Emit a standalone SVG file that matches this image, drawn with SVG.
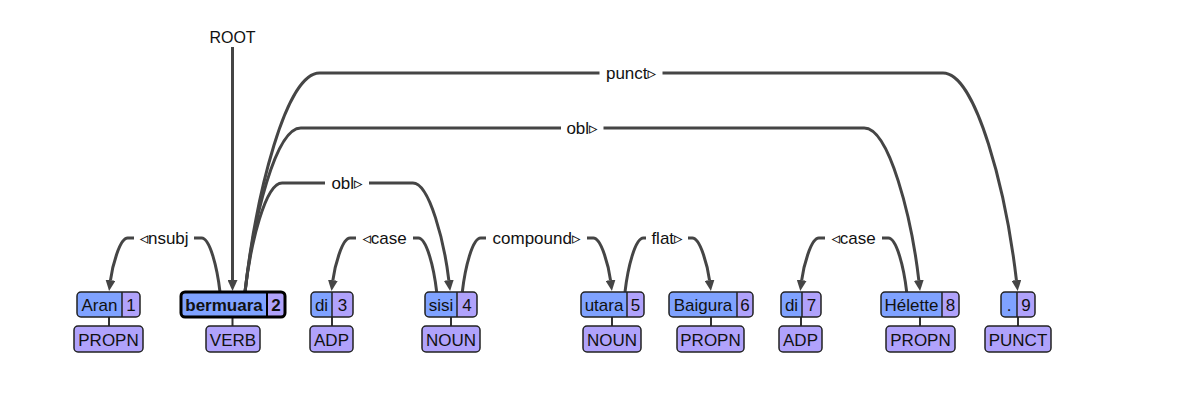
<svg xmlns="http://www.w3.org/2000/svg" width="1177" height="407" viewBox="0 0 1177 407">
<style>
.bg{fill:#ffffff}
.arc{fill:none;stroke:#454545;stroke-width:3}
.stem{stroke:#333;stroke-width:2}
.w{fill:#7fa2ff}
.nb{fill:#b0a2fb}
.o{fill:none;stroke:#222;stroke-width:1.5}
.ob{fill:none;stroke:#000;stroke-width:3}
.dv{stroke:#222;stroke-width:1.5}
.pos{fill:#b0a2fb;stroke:#222;stroke-width:1.5}
.t{font-family:"Liberation Sans","DejaVu Sans",Arial,sans-serif;font-size:17px;fill:#111;text-anchor:middle}
.r{font-size:16px}
.b{font-weight:bold}
.lbl{font-family:"Liberation Sans","DejaVu Sans",Arial,sans-serif;font-size:17px;fill:#111;text-anchor:middle}
</style>
<defs>
<marker id="arr" markerWidth="11" markerHeight="10" refX="0" refY="5" orient="auto" markerUnits="userSpaceOnUse">
<path d="M0,0 L11,5 L0,10 z" fill="#454545"/>
</marker>
</defs>
<rect class="bg" x="0" y="0" width="1177" height="407"/>

<g id="connectors">
<!-- ROOT -->
<path class="arc" d="M232.5,47 V280" marker-end="url(#arr)"/>
<!-- nsubj 2->1 -->
<path class="arc" d="M134,238 H127.7 C119.4,238 112.1,267.7 110.5,280.1" marker-end="url(#arr)"/>
<path class="arc" d="M194,238 H201.6 C209.9,238 217.2,267.7 220,292"/>
<!-- case 4->3 -->
<path class="arc" d="M356,238 H350.1 C341.8,238 334.5,267.7 332.9,280.1" marker-end="url(#arr)"/>
<path class="arc" d="M413,238 H418.3 C426.6,238 433.9,267.7 436.7,292"/>
<!-- compound 4->5 -->
<path class="arc" d="M486,238 H480.7 C472.4,238 465.1,267.7 462.3,292"/>
<path class="arc" d="M587,238 H593.3 C601.6,238 608.9,267.7 610.5,280.1" marker-end="url(#arr)"/>
<!-- flat 5->6 -->
<path class="arc" d="M646,238 H643.4 C635.1,238 627.8,267.7 625,292"/>
<path class="arc" d="M688,238 H692.3 C700.6,238 707.9,267.7 709.5,280.1" marker-end="url(#arr)"/>
<!-- case 8->7 -->
<path class="arc" d="M825,238 H818.9 C810.6,238 803.3,267.7 801.7,280.1" marker-end="url(#arr)"/>
<path class="arc" d="M882,238 H888.3 C896.6,238 903.9,267.7 906.7,292"/>
<!-- obl 2->4 -->
<path class="arc" d="M325,183 H282.1 C265.4,183 250.6,243 245,292"/>
<path class="arc" d="M369,183 H412.9 C429.6,183 444.4,243 448.8,280.1" marker-end="url(#arr)"/>
<!-- obl 2->8 -->
<path class="arc" d="M561,128 H300.8 C275.7,128 253.4,218.2 245,292"/>
<path class="arc" d="M603.5,128 H864.2 C889.3,128 911.6,218.2 918.8,280.1" marker-end="url(#arr)"/>
<!-- punct 2->9 -->
<path class="arc" d="M599.5,73 H319.5 C286,73 256.2,193.4 245,292"/>
<path class="arc" d="M662.5,73 H943 C976.5,73 1006.3,193.4 1016.4,280.1" marker-end="url(#arr)"/>
</g>

<g id="labels">
<text class="lbl" x="164" y="243.5">◃nsubj</text>
<text class="lbl" x="384.5" y="243.5">◃case</text>
<text class="lbl" x="536.5" y="243.5">compound▹</text>
<text class="lbl" x="667" y="243.5">flat▹</text>
<text class="lbl" x="853.5" y="243.5">◃case</text>
<text class="lbl" x="347" y="188.5">obl▹</text>
<text class="lbl" x="582" y="133.5">obl▹</text>
<text class="lbl" x="631" y="78.5">punct▹</text>
</g>

<g id="root">
<text class="t r" x="232.5" y="43">ROOT</text>
</g>

<g id="node-1">
<line class="stem" x1="109" y1="317" x2="109" y2="326"/>
<rect class="nb" x="77" y="292" width="63" height="25" rx="4"/>
<path class="w" d="M81,292 H122 V317 H81 A4,4 0 0 1 77,313 V296 A4,4 0 0 1 81,292 Z"/>
<rect class="o" x="77" y="292" width="63" height="25" rx="4"/>
<line class="dv" x1="122" y1="292" x2="122" y2="317"/>
<text class="t" x="99.5" y="310.5">Aran</text>
<text class="t" x="131" y="310.5">1</text>
<rect class="pos" x="74" y="326" width="69" height="26" rx="4"/>
<text class="t" x="108.5" y="345.5">PROPN</text>
</g>

<g id="node-2">
<line class="stem" x1="232.5" y1="317" x2="232.5" y2="326"/>
<rect class="nb" x="181" y="292" width="104" height="25" rx="4"/>
<path class="w" d="M185,292 H267 V317 H185 A4,4 0 0 1 181,313 V296 A4,4 0 0 1 185,292 Z"/>
<rect class="ob" x="181" y="292" width="104" height="25" rx="4"/>
<line class="ob" x1="267" y1="292" x2="267" y2="317" style="stroke-width:2"/>
<text class="t b" x="224" y="310.5">bermuara</text>
<text class="t b" x="276" y="310.5">2</text>
<rect class="pos" x="206" y="326" width="54" height="26" rx="4"/>
<text class="t" x="233" y="345.5">VERB</text>
</g>

<g id="node-3">
<line class="stem" x1="332" y1="317" x2="332" y2="326"/>
<rect class="nb" x="311" y="292" width="42" height="25" rx="4"/>
<path class="w" d="M315,292 H332 V317 H315 A4,4 0 0 1 311,313 V296 A4,4 0 0 1 315,292 Z"/>
<rect class="o" x="311" y="292" width="42" height="25" rx="4"/>
<line class="dv" x1="332" y1="292" x2="332" y2="317"/>
<text class="t" x="321.5" y="310.5">di</text>
<text class="t" x="342.5" y="310.5">3</text>
<rect class="pos" x="310" y="326" width="43" height="26" rx="4"/>
<text class="t" x="331.5" y="345.5">ADP</text>
</g>

<g id="node-4">
<line class="stem" x1="451" y1="317" x2="451" y2="326"/>
<rect class="nb" x="425" y="292" width="52" height="25" rx="4"/>
<path class="w" d="M429,292 H457 V317 H429 A4,4 0 0 1 425,313 V296 A4,4 0 0 1 429,292 Z"/>
<rect class="o" x="425" y="292" width="52" height="25" rx="4"/>
<line class="dv" x1="457" y1="292" x2="457" y2="317"/>
<text class="t" x="441" y="310.5">sisi</text>
<text class="t" x="467" y="310.5">4</text>
<rect class="pos" x="422" y="326" width="58" height="26" rx="4"/>
<text class="t" x="451" y="345.5">NOUN</text>
</g>

<g id="node-5">
<line class="stem" x1="612" y1="317" x2="612" y2="326"/>
<rect class="nb" x="581" y="292" width="63" height="25" rx="4"/>
<path class="w" d="M585,292 H627 V317 H585 A4,4 0 0 1 581,313 V296 A4,4 0 0 1 585,292 Z"/>
<rect class="o" x="581" y="292" width="63" height="25" rx="4"/>
<line class="dv" x1="627" y1="292" x2="627" y2="317"/>
<text class="t" x="604" y="310.5">utara</text>
<text class="t" x="635.5" y="310.5">5</text>
<rect class="pos" x="583" y="326" width="58" height="26" rx="4"/>
<text class="t" x="612" y="345.5">NOUN</text>
</g>

<g id="node-6">
<line class="stem" x1="711" y1="317" x2="711" y2="326"/>
<rect class="nb" x="669" y="292" width="84" height="25" rx="4"/>
<path class="w" d="M673,292 H737 V317 H673 A4,4 0 0 1 669,313 V296 A4,4 0 0 1 673,292 Z"/>
<rect class="o" x="669" y="292" width="84" height="25" rx="4"/>
<line class="dv" x1="737" y1="292" x2="737" y2="317"/>
<text class="t" x="703" y="310.5">Baigura</text>
<text class="t" x="745" y="310.5">6</text>
<rect class="pos" x="677" y="326" width="67" height="26" rx="4"/>
<text class="t" x="710.5" y="345.5">PROPN</text>
</g>

<g id="node-7">
<line class="stem" x1="801" y1="317" x2="801" y2="326"/>
<rect class="nb" x="781" y="292" width="40" height="25" rx="4"/>
<path class="w" d="M785,292 H802 V317 H785 A4,4 0 0 1 781,313 V296 A4,4 0 0 1 785,292 Z"/>
<rect class="o" x="781" y="292" width="40" height="25" rx="4"/>
<line class="dv" x1="802" y1="292" x2="802" y2="317"/>
<text class="t" x="791.5" y="310.5">di</text>
<text class="t" x="811.5" y="310.5">7</text>
<rect class="pos" x="779" y="326" width="43" height="26" rx="4"/>
<text class="t" x="800.5" y="345.5">ADP</text>
</g>

<g id="node-8">
<line class="stem" x1="920" y1="317" x2="920" y2="326"/>
<rect class="nb" x="881" y="292" width="78" height="25" rx="4"/>
<path class="w" d="M885,292 H942 V317 H885 A4,4 0 0 1 881,313 V296 A4,4 0 0 1 885,292 Z"/>
<rect class="o" x="881" y="292" width="78" height="25" rx="4"/>
<line class="dv" x1="942" y1="292" x2="942" y2="317"/>
<text class="t" x="911.5" y="310.5">Hélette</text>
<text class="t" x="950.5" y="310.5">8</text>
<rect class="pos" x="886" y="326" width="69" height="26" rx="4"/>
<text class="t" x="920.5" y="345.5">PROPN</text>
</g>

<g id="node-9">
<line class="stem" x1="1018" y1="317" x2="1018" y2="326"/>
<rect class="nb" x="1001" y="292" width="34" height="25" rx="4"/>
<path class="w" d="M1005,292 H1017 V317 H1005 A4,4 0 0 1 1001,313 V296 A4,4 0 0 1 1005,292 Z"/>
<rect class="o" x="1001" y="292" width="34" height="25" rx="4"/>
<line class="dv" x1="1017" y1="292" x2="1017" y2="317"/>
<text class="t" x="1009" y="310.5">.</text>
<text class="t" x="1026" y="310.5">9</text>
<rect class="pos" x="985" y="326" width="66" height="26" rx="4"/>
<text class="t" x="1018" y="345.5">PUNCT</text>
</g>
</svg>
